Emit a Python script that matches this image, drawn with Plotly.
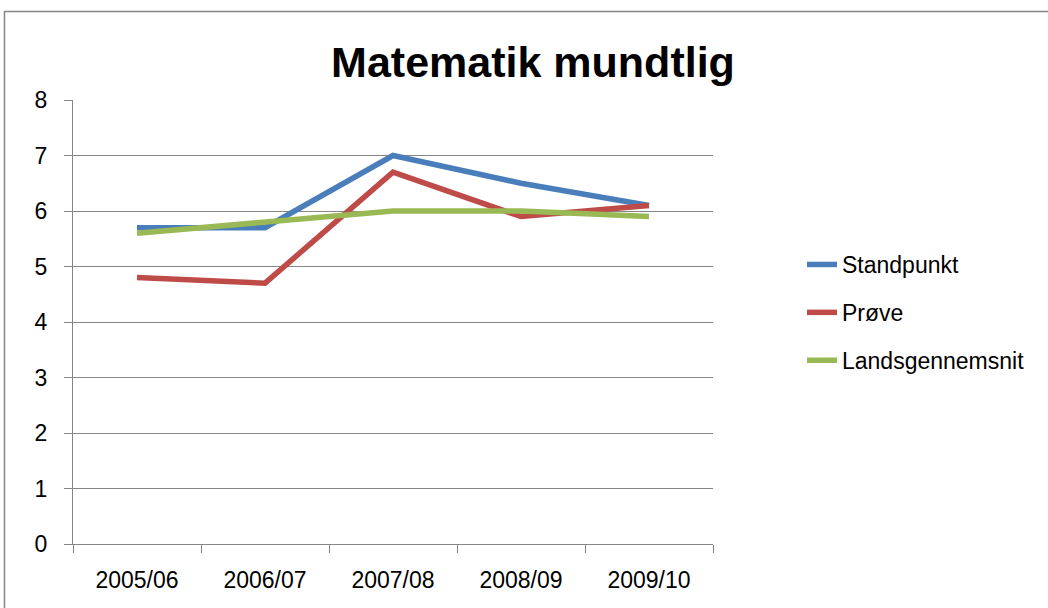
import plotly.graph_objects as go

categories = ["2005/06", "2006/07", "2007/08", "2008/09", "2009/10"]
standpunkt = [5.7, 5.7, 7.0, 6.5, 6.1]
prove = [4.8, 4.7, 6.7, 5.9, 6.1]
landsgennemsnit = [5.6, 5.8, 6.0, 6.0, 5.9]

series = [
    ("Standpunkt", standpunkt, "#4A7EBB"),
    ("Prøve", prove, "#BE4B48"),
    ("Landsgennemsnit", landsgennemsnit, "#98B954"),
]

FONT = "Liberation Sans"
fig = go.Figure()
for i, (name, vals, color) in enumerate(series):
    fig.add_trace(go.Scatter(
        x=categories, y=vals, name=name, mode="lines",
        line=dict(color=color, width=5.5), legendgroup=str(i),
    ))

L, T, R, B = 73, 100, 713, 544
W, H = 1048, 608
fig.update_layout(
    width=W, height=H,
    margin=dict(l=L, r=W - R, t=T, b=H - B, autoexpand=False),
    paper_bgcolor="white", plot_bgcolor="white",
    font=dict(family=FONT, size=23, color="black"),
    title=dict(text="<b>Matematik mundtlig</b>", x=533 / W, xref="container",
               xanchor="center", y=1 - 62 / H, yref="container", yanchor="middle",
               font=dict(family=FONT, size=43, color="black")),
    legend=dict(x=(802 - L) / (R - L), xanchor="left", y=1 - (243 - T) / (B - T),
                yanchor="top", traceorder="grouped", tracegroupgap=15,
                font=dict(family=FONT, size=23)),
    xaxis=dict(type="category", range=[-0.5, 4.5], tickson="boundaries",
               ticks="outside", ticklen=8, tickcolor="#868686",
               showline=True, linecolor="#868686", linewidth=1,
               showgrid=False, zeroline=False, tickfont=dict(size=23),
               ticklabelstandoff=15),
    yaxis=dict(range=[0, 8], dtick=1, ticks="outside", ticklen=8,
               tickcolor="#868686", showline=True, linecolor="#868686",
               linewidth=1, gridcolor="#868686", gridwidth=1, zeroline=False,
               tickfont=dict(size=23), ticklabelstandoff=12),
    showlegend=True,
)
fig.add_shape(type="rect", xref="paper", yref="paper",
              x0=(4.5 - L) / (R - L), x1=(W + 20 - L) / (R - L),
              y0=(B - (H + 20)) / (B - T), y1=(B - 11.5) / (B - T),
              line=dict(color="#868686", width=1.5), layer="below")
fig.write_html("out.html", config={"displayModeBar": False},
               post_script="document.body.style.margin='0';")
